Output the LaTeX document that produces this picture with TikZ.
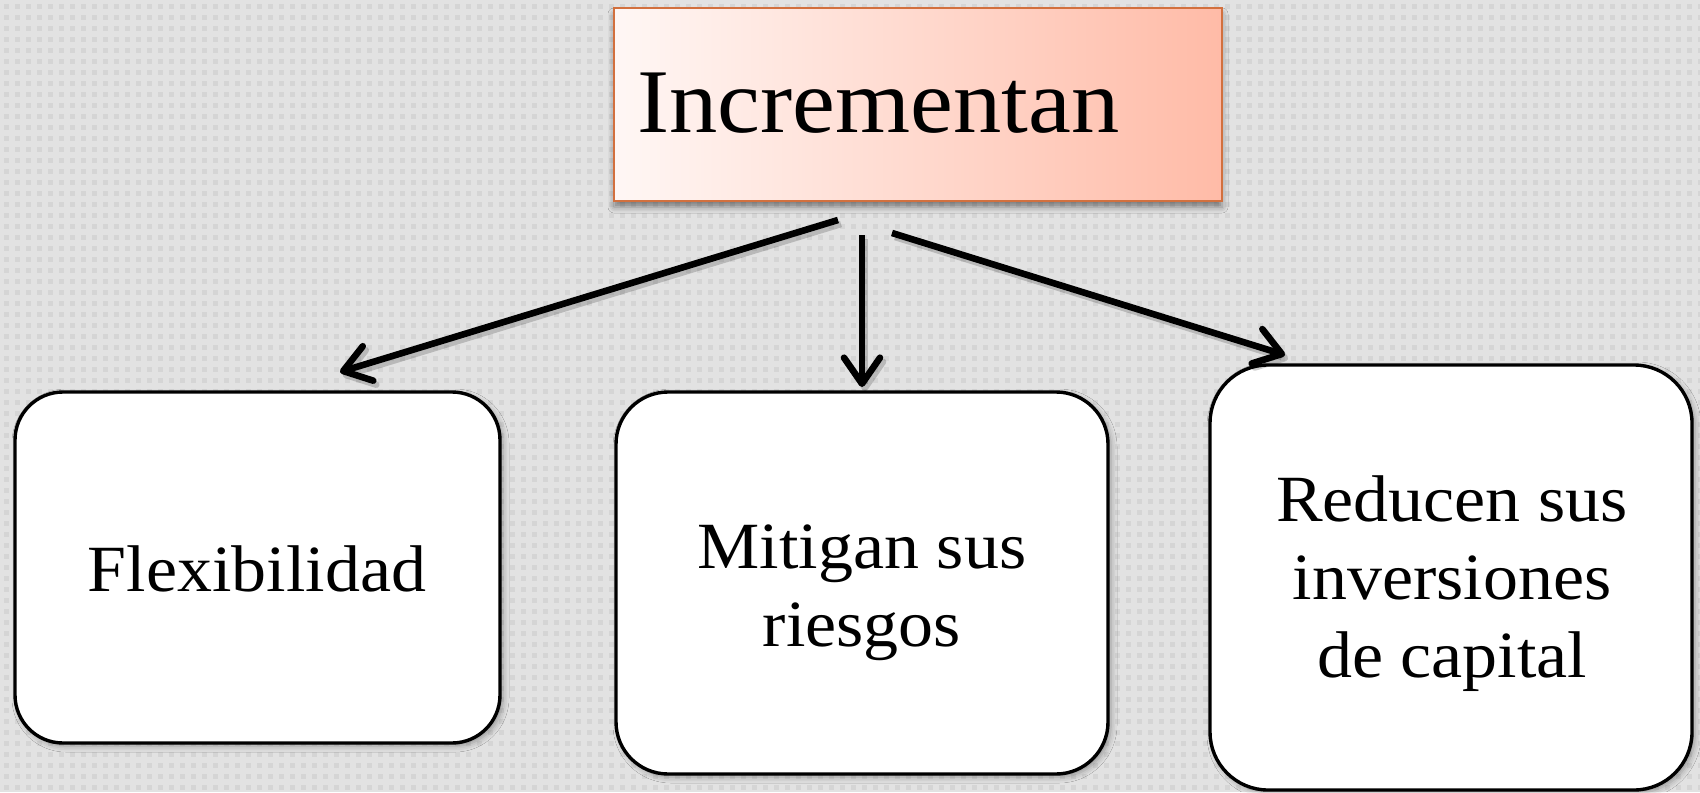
\documentclass[tikz,border=0pt]{standalone}
\usepackage{fontspec}
\setmainfont{Liberation Serif}[FakeStretch=1.06]
\usetikzlibrary{arrows.meta,shadows.blur}
\definecolor{bgcol}{HTML}{E2E2E2}
\definecolor{dotcol}{HTML}{D5D5D5}
\definecolor{topL}{HTML}{FFF7F5}
\definecolor{topR}{HTML}{FFBBA7}
\definecolor{topB}{HTML}{D2703E}
\tikzset{
  boxstyle/.style={draw=black, line width=1.7pt, fill=white, outer sep=0pt, inner sep=0pt,
    blur shadow={shadow xshift=1.5pt, shadow yshift=-1.5pt, shadow blur radius=3pt, shadow opacity=35}},
  topstyle/.style={draw=topB, line width=1pt, left color=topL, right color=topR, outer sep=0pt, inner sep=0pt,
    minimum width=304pt, minimum height=96.5pt,
    blur shadow={shadow xshift=0pt, shadow yshift=-3pt, shadow blur radius=3pt, shadow opacity=45}},
  bigtxt/.style={inner sep=0pt, font=\fontsize{45.5}{50}\selectfont},
  txt/.style={inner sep=0pt, align=center, font=\fontsize{33}{39}\selectfont},
  arr/.style={line width=3.3pt, -{Straight Barb[length=13pt,width=18pt,round]}},
  arrshadow/.style={line width=3.3pt, draw=black, opacity=0.18, -{Straight Barb[length=13pt,width=18pt,round]}}
}
\begin{document}
\begin{tikzpicture}[x=0.5pt,y=-0.5pt]
\useasboundingbox (0,0) rectangle (1700,792);
\fill[bgcol] (0,0) rectangle (1700,792);
\foreach \k in {0,...,71}{
  \draw[dotcol, line width=2.5pt, dash pattern=on 2.5pt off 3pt] (4,6.5+11*\k) -- (1700,6.5+11*\k);
}
% top box
\node[topstyle] (top) at (918,104.5) {};
\node[bigtxt, anchor=base west] (toptxt) at (637,133) {Incrementan};
% lower boxes
\node[boxstyle, rounded corners=24pt, minimum width=242.5pt, minimum height=175.5pt] (b1) at (257.5,567.5) {};
\node[boxstyle, rounded corners=26pt, minimum width=246pt, minimum height=191pt] (b2) at (862,583) {};
\node[boxstyle, rounded corners=29pt, minimum width=241pt, minimum height=212.5pt] (b3) at (1451,577.5) {};
\node[txt, anchor=base] (t1) at (257,591) {Flexibilidad};
\node[txt, anchor=base] (t2) at (862,646) {Mitigan sus\\riesgos};
\node[txt, anchor=base] (t3) at (1452,677) {Reducen sus\\inversiones\\de capital};
% connector ends
\coordinate (a1s) at (838,220);
\coordinate (a1e) at (340,372);
\coordinate (a2s) at (862,235);
\coordinate (a2e) at (862,387);
\coordinate (a3s) at (892,233);
\coordinate (a3e) at (1285,355);
\foreach \s/\e in {a1s/a1e,a2s/a2e,a3s/a3e}{
  \draw[arrshadow, transform canvas={xshift=1.5pt,yshift=-2pt}] (\s) -- (\e);
}
\draw[arr] (a1s) -- (a1e);
\draw[arr] (a2s) -- (a2e);
\draw[arr] (a3s) -- (a3e);
\end{tikzpicture}
\end{document}
